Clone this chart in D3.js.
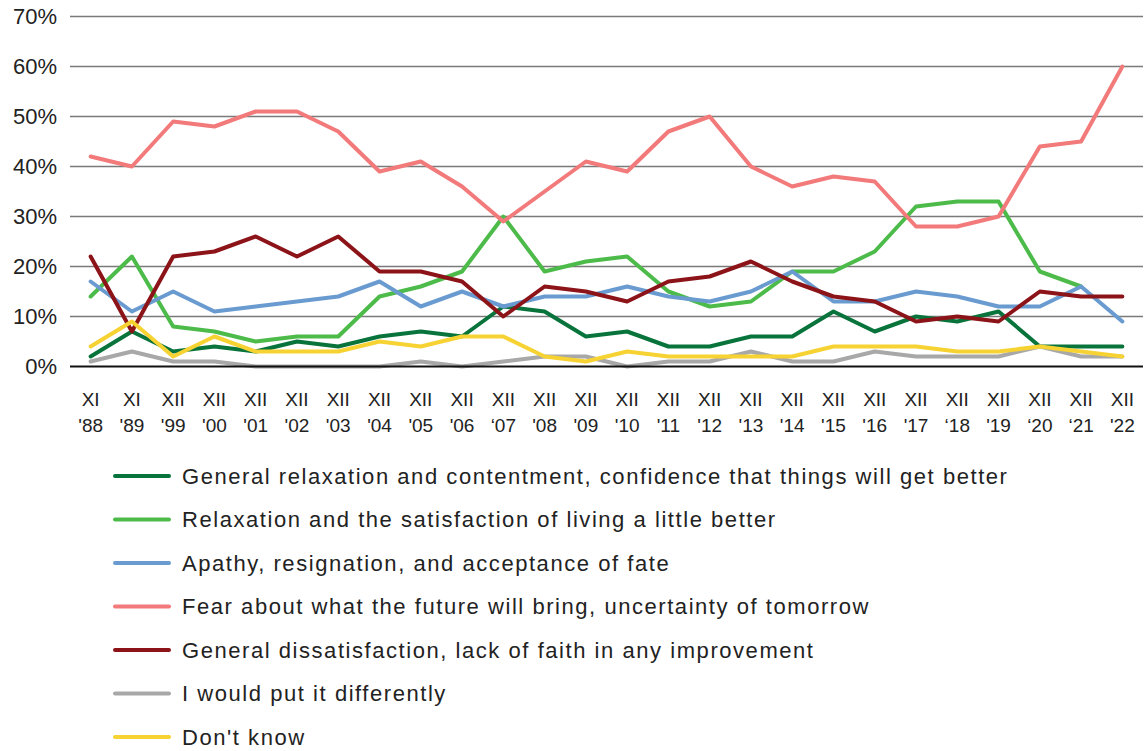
<!DOCTYPE html>
<html>
<head>
<meta charset="utf-8">
<script src="https://cdn.jsdelivr.net/npm/d3@7"></script>
<style>
  html, body { margin: 0; padding: 0; background: #fff; }
  svg { display: block; font-family: "Liberation Sans", Arial, sans-serif; }
</style>
</head>
<body>
<svg id="chart" width="1145" height="751"></svg>
<script>
const monthLabels = ["XI","XI","XII","XII","XII","XII","XII","XII","XII","XII","XII","XII","XII","XII","XII","XII","XII","XII","XII","XII","XII","XII","XII","XII","XII","XII"];
const yearLabels = ["'88","'89","'99","'00","'01","'02","'03","'04","'05","'06","\u201807","'08","'09","'10","'11","'12","'13","'14","'15","'16","'17","\u201818","'19","\u201820","\u201821","'22"];
const categories = monthLabels.map((m, i) => m + " " + yearLabels[i]);

const seriesNames = [
  "General relaxation and contentment, confidence that things will get better",
  "Relaxation and the satisfaction of living a little better",
  "Apathy, resignation, and acceptance of fate",
  "Fear about what the future will bring, uncertainty of tomorrow",
  "General dissatisfaction, lack of faith in any improvement",
  "I would put it differently",
  "Don't know"
];
const seriesColors = ["#08743b", "#4dbb4a", "#6a9bd0", "#f27a7a", "#8c1419", "#a8a8a8", "#f7d233"];

const generalRelaxation = [2, 7, 3, 4, 3, 5, 4, 6, 7, 6, 12, 11, 6, 7, 4, 4, 6, 6, 11, 7, 10, 9, 11, 4, 4, 4];
const relaxationLivingBetter = [14, 22, 8, 7, 5, 6, 6, 14, 16, 19, 30, 19, 21, 22, 15, 12, 13, 19, 19, 23, 32, 33, 33, 19, 16, null];
const apathy = [17, 11, 15, 11, 12, 13, 14, 17, 12, 15, 12, 14, 14, 16, 14, 13, 15, 19, 13, 13, 15, 14, 12, 12, 16, 9];
const fear = [42, 40, 49, 48, 51, 51, 47, 39, 41, 36, 29, 35, 41, 39, 47, 50, 40, 36, 38, 37, 28, 28, 30, 44, 45, 60];
const dissatisfaction = [22, 7, 22, 23, 26, 22, 26, 19, 19, 17, 10, 16, 15, 13, 17, 18, 21, 17, 14, 13, 9, 10, 9, 15, 14, 14];
const differently = [1, 3, 1, 1, 0, 0, 0, 0, 1, 0, 1, 2, 2, 0, 1, 1, 3, 1, 1, 3, 2, 2, 2, 4, 2, 2];
const dontKnow = [4, 9, 2, 6, 3, 3, 3, 5, 4, 6, 6, 2, 1, 3, 2, 2, 2, 2, 4, 4, 4, 3, 3, 4, 3, 2];

const yTicks = [0, 10, 20, 30, 40, 50, 60, 70];

const seriesValues = [generalRelaxation, relaxationLivingBetter, apathy, fear, dissatisfaction, differently, dontKnow];

const svg = d3.select("#chart");
const plot = { left: 70, right: 1143, top: 16.5, bottom: 366.5 };

const x = d3.scalePoint().domain(categories).range([plot.left, plot.right]).padding(0.5);
const y = d3.scaleLinear().domain([0, 70]).range([plot.bottom, plot.top]);

// gridlines
svg.append("g").selectAll("line").data(yTicks.filter(t => t > 0)).join("line")
  .attr("x1", plot.left).attr("x2", plot.right)
  .attr("y1", d => y(d)).attr("y2", d => y(d))
  .attr("stroke", "#7a7a7a").attr("stroke-width", 1.4);

// y labels
svg.append("g").selectAll("text").data(yTicks).join("text")
  .attr("x", 57).attr("y", d => y(d))
  .attr("text-anchor", "end").attr("dominant-baseline", "central")
  .attr("font-size", 22).attr("fill", "#222")
  .text(d => d + "%");

// lines
const line = d3.line()
  .defined(d => d.v !== null)
  .x(d => x(d.c)).y(d => y(d.v));

const linesG = svg.append("g");
seriesValues.forEach((vals, i) => {
  linesG.append("path")
    .datum(vals.map((v, j) => ({ c: categories[j], v })))
    .attr("d", line)
    .attr("fill", "none")
    .attr("stroke", seriesColors[i])
    .attr("stroke-width", 4)
    .attr("stroke-linejoin", "round")
    .attr("stroke-linecap", "round");
});

// baseline
svg.append("line")
  .attr("x1", plot.left).attr("x2", plot.right)
  .attr("y1", y(0)).attr("y2", y(0))
  .attr("stroke", "#111").attr("stroke-width", 2);

// x labels
const xg = svg.append("g");
categories.forEach((c, i) => {
  const t = xg.append("text")
    .attr("x", x(c)).attr("text-anchor", "middle")
    .attr("font-size", 19).attr("fill", "#222");
  t.append("tspan").attr("x", x(c)).attr("y", 406).text(monthLabels[i]);
  t.append("tspan").attr("x", x(c)).attr("y", 432).text(yearLabels[i]);
});

// legend
const legend = svg.append("g");
seriesNames.forEach((name, i) => {
  const ly = 476 + i * 43.5;
  legend.append("line")
    .attr("x1", 115).attr("x2", 169)
    .attr("y1", ly).attr("y2", ly)
    .attr("stroke", seriesColors[i]).attr("stroke-width", 4)
    .attr("stroke-linecap", "round");
  legend.append("text")
    .attr("x", 182).attr("y", ly)
    .attr("dominant-baseline", "central")
    .attr("font-size", 22).attr("letter-spacing", 1.55).attr("fill", "#222")
    .text(name);
});
</script>
</body>
</html>
